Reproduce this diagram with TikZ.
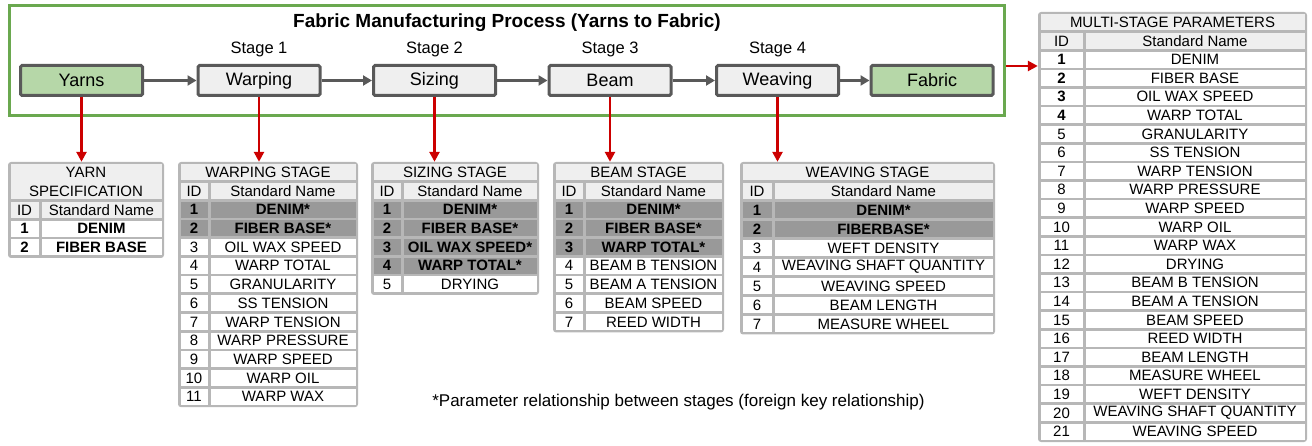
\documentclass[tikz,border=0pt]{standalone}
\usepackage{fontspec}
\setmainfont{Liberation Sans}
\usetikzlibrary{arrows.meta}

\definecolor{procgreen}{HTML}{6AA84F}
\definecolor{leafgreen}{HTML}{B6D7A8}
\definecolor{boxgray}{HTML}{EFEFEF}
\definecolor{linegray}{HTML}{595959}
\definecolor{framegray}{HTML}{B7B7B7}
\definecolor{keygray}{HTML}{999999}
\definecolor{linkred}{HTML}{CC0000}

\begin{document}
\begin{tikzpicture}[x=1pt,y=-1pt,
  procframe/.style={draw=procgreen,line width=3pt,minimum width=995pt,minimum height=110pt,inner sep=0},
  proc/.style={draw=linegray,fill=boxgray,line width=3pt,rounded corners=1.5pt,minimum width=122pt,minimum height=30pt,inner sep=0,font=\fontsize{18}{20}\selectfont},
  endproc/.style={proc,fill=leafgreen},
  stagelbl/.style={inner sep=0,font=\fontsize{16.5}{18}\selectfont},
  ttl/.style={inner sep=0,font=\fontsize{19}{21}\selectfont\bfseries},
  flow/.style={draw=linegray,line width=3pt,-{Triangle[length=9pt,width=10pt]}},
  feed/.style={draw=linkred,line width=2.5pt,-{Triangle[length=10pt,width=10pt]}},
  tabframe/.style={fill=framegray,rounded corners=3pt,inner sep=0},
  cell/.style={inner sep=0,minimum height=16pt,font=\fontsize{15}{16}\selectfont},
  headcell/.style={cell,fill=boxgray},
  plaincell/.style={cell,fill=white},
  boldcell/.style={plaincell,font=\fontsize{15}{16}\selectfont\bfseries},
  keycell/.style={cell,fill=keygray,font=\fontsize{15}{16}\selectfont\bfseries},
  note/.style={inner sep=0,font=\fontsize{17}{18}\selectfont}]
\useasboundingbox (0,0) rectangle (1312,446);

\node[procframe] (procF) at (507,60.5) {};
\node[ttl] (title) at (507,23) {Fabric Manufacturing Process (Yarns to Fabric)};

\node[endproc] (yarns) at (81.5,80.5) {Yarns};
\node[proc] (warping) at (259,80.5) {Warping};
\node[proc] (sizing) at (434.5,80.5) {Sizing};
\node[proc] (beam) at (610,80.5) {Beam};
\node[proc] (weaving) at (777.5,80.5) {Weaving};
\node[endproc] (fabric) at (932,80.5) {Fabric};

\node[stagelbl] (st1) at (259,49) {Stage 1};
\node[stagelbl] (st2) at (434.5,49) {Stage 2};
\node[stagelbl] (st3) at (610,49) {Stage 3};
\node[stagelbl] (st4) at (777.5,49) {Stage 4};

\draw[flow] (yarns) -- (warping);
\draw[flow] (warping) -- (sizing);
\draw[flow] (sizing) -- (beam);
\draw[flow] (beam) -- (weaving);
\draw[flow] (weaving) -- (fabric);

\node[tabframe,minimum width=156pt,minimum height=96pt] (yarnT) at (86,210) {};
\node[headcell,minimum width=151pt,minimum height=34.7pt,align=center,font=\fontsize{15}{19}\selectfont] (yarnH) at (86,181.5) {YARN\\SPECIFICATION};
\node[headcell,minimum width=28pt] (yarnI) at (24.5,210) {ID};
\node[headcell,minimum width=120pt] (yarnS) at (101.5,210) {Standard Name};
\foreach \i/\n in {1/DENIM,2/FIBER BASE}{
  \node[boldcell,minimum width=28pt] (yarnI\i) at (24.5,{210+\i*18.7}) {\i};
  \node[boldcell,minimum width=120pt] (yarnN\i) at (101.5,{210+\i*18.7}) {\n};
}

\node[tabframe,minimum width=180pt,minimum height=245.2pt] (warpT) at (268,284.6) {};
\node[headcell,minimum width=175pt] (warpH) at (268,172) {WARPING STAGE};
\node[headcell,minimum width=27pt] (warpI) at (194,191) {ID};
\node[headcell,minimum width=145pt] (warpS) at (283,191) {Standard Name};
\foreach \i/\n in {1/DENIM*,2/FIBER BASE*}{
  \node[keycell,minimum width=27pt] (warpI\i) at (194,{191+\i*18.7}) {\i};
  \node[keycell,minimum width=145pt] (warpN\i) at (283,{191+\i*18.7}) {\n};
}
\foreach \i/\n in {3/OIL WAX SPEED,4/WARP TOTAL,5/GRANULARITY,6/SS TENSION,7/WARP TENSION,8/WARP PRESSURE,9/WARP SPEED,10/WARP OIL,11/WARP WAX}{
  \node[plaincell,minimum width=27pt] (warpI\i) at (194,{191+\i*18.7}) {\i};
  \node[plaincell,minimum width=145pt] (warpN\i) at (283,{191+\i*18.7}) {\n};
}

\node[tabframe,minimum width=168pt,minimum height=133pt] (sizeT) at (455,228.5) {};
\node[headcell,minimum width=163pt] (sizeH) at (455,172) {SIZING STAGE};
\node[headcell,minimum width=27pt] (sizeI) at (387,191) {ID};
\node[headcell,minimum width=133pt] (sizeS) at (470,191) {Standard Name};
\foreach \i/\n in {1/DENIM*,2/FIBER BASE*,3/OIL WAX SPEED*,4/WARP TOTAL*}{
  \node[keycell,minimum width=27pt] (sizeI\i) at (387,{191+\i*18.7}) {\i};
  \node[keycell,minimum width=133pt] (sizeN\i) at (470,{191+\i*18.7}) {\n};
}
\node[plaincell,minimum width=27pt] (sizeI5) at (387,284.5) {5};
\node[plaincell,minimum width=133pt] (sizeN5) at (470,284.5) {DRYING};

\node[tabframe,minimum width=171pt,minimum height=170.4pt] (beamT) at (638.5,247.2) {};
\node[headcell,minimum width=166pt] (beamH) at (638.5,172) {BEAM STAGE};
\node[headcell,minimum width=27pt] (beamI) at (569,191) {ID};
\node[headcell,minimum width=136pt] (beamS) at (653.5,191) {Standard Name};
\foreach \i/\n in {1/DENIM*,2/FIBER BASE*,3/WARP TOTAL*}{
  \node[keycell,minimum width=27pt] (beamI\i) at (569,{191+\i*18.7}) {\i};
  \node[keycell,minimum width=136pt] (beamN\i) at (653.5,{191+\i*18.7}) {\n};
}
\foreach \i/\n in {4/BEAM B TENSION,5/BEAM A TENSION,6/BEAM SPEED,7/REED WIDTH}{
  \node[plaincell,minimum width=27pt] (beamI\i) at (569,{191+\i*18.7}) {\i};
  \node[plaincell,minimum width=136pt] (beamN\i) at (653.5,{191+\i*18.7}) {\n};
}

\node[tabframe,minimum width=255pt,minimum height=172.5pt] (weaveT) at (867.5,248.25) {};
\node[headcell,minimum width=250pt] (weaveH) at (867.5,172) {WEAVING STAGE};
\node[headcell,minimum width=29pt] (weaveI) at (757,191) {ID};
\node[headcell,minimum width=218pt] (weaveS) at (883.5,191) {Standard Name};
\foreach \i/\n in {1/DENIM*,2/FIBERBASE*}{
  \node[keycell,minimum width=29pt] (weaveI\i) at (757,{191+\i*19}) {\i};
  \node[keycell,minimum width=218pt] (weaveN\i) at (883.5,{191+\i*19}) {\n};
}
\foreach \i/\n in {3/WEFT DENSITY,4/WEAVING SHAFT QUANTITY,5/WEAVING SPEED,6/BEAM LENGTH,7/MEASURE WHEEL}{
  \node[plaincell,minimum width=29pt] (weaveI\i) at (757,{191+\i*19}) {\i};
  \node[plaincell,minimum width=218pt] (weaveN\i) at (883.5,{191+\i*19}) {\n};
}

\node[tabframe,minimum width=269pt,minimum height=430pt] (msT) at (1172.5,227) {};
\node[headcell,minimum width=264pt] (msH) at (1172.5,22) {MULTI-STAGE PARAMETERS};
\node[headcell,minimum width=42pt] (msI) at (1061.5,41) {ID};
\node[headcell,minimum width=219pt] (msS) at (1195,41) {Standard Name};
\foreach \i/\n in {1/DENIM,2/FIBER BASE,3/OIL WAX SPEED,4/WARP TOTAL}{
  \node[boldcell,minimum width=42pt] (msI\i) at (1061.5,{41+\i*18.6}) {\i};
  \node[plaincell,minimum width=219pt] (msN\i) at (1195,{41+\i*18.6}) {\n};
}
\foreach \i/\n in {5/GRANULARITY,6/SS TENSION,7/WARP TENSION,8/WARP PRESSURE,9/WARP SPEED,10/WARP OIL,11/WARP WAX,12/DRYING,13/BEAM B TENSION,14/BEAM A TENSION,15/BEAM SPEED,16/REED WIDTH,17/BEAM LENGTH,18/MEASURE WHEEL,19/WEFT DENSITY,20/WEAVING SHAFT QUANTITY,21/WEAVING SPEED}{
  \node[plaincell,minimum width=42pt] (msI\i) at (1061.5,{41+\i*18.6}) {\i};
  \node[plaincell,minimum width=219pt] (msN\i) at (1195,{41+\i*18.6}) {\n};
}

\draw[feed] (yarns.south) -- (yarns.south |- yarnT.north);
\draw[feed] (warping.south) -- (warping.south |- warpT.north);
\draw[feed] (sizing.south) -- (sizing.south |- sizeT.north);
\draw[feed] (beam.south) -- (beam.south |- beamT.north);
\draw[feed] (weaving.south) -- (weaving.south |- weaveT.north);
\draw[feed] (procF.east |- 0,66) -- (msT.west |- 0,66);

\node[note] (fn) at (678.5,402) {*Parameter relationship between stages (foreign key relationship)};
\end{tikzpicture}
\end{document}
